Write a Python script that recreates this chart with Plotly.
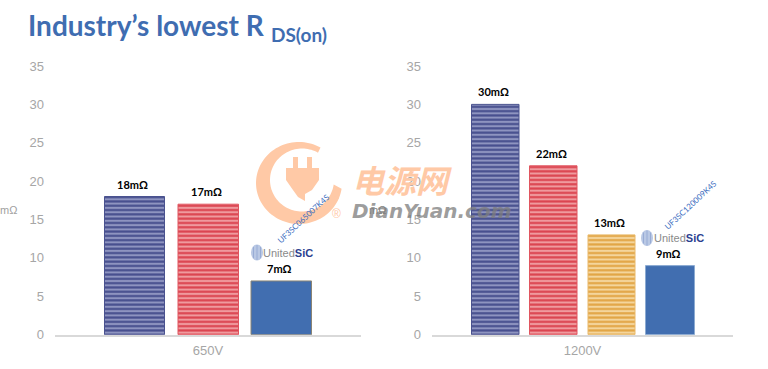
import numpy as np
import plotly.graph_objects as go

W, H = 768, 369

# --- data ---
group_left = "650V"
values_left = [18, 17, 7]
labels_left = ["18mΩ", "17mΩ", "7mΩ"]
group_right = "1200V"
values_right = [30, 22, 13, 9]
labels_right = ["30mΩ", "22mΩ", "13mΩ", "9mΩ"]
y_ticks = [0, 5, 10, 15, 20, 25, 30, 35]
part_left = "UF3SC065007K4S"
part_right = "UF3SC120009K4S"

# --- layout constants (pixels) ---
L_AX = (55, 361)
R_AX = (432, 733)
Y_TOP, Y_BASE = 66.0, 334.7
L_BARS = [(104.5, 164.5), (178, 238.5), (251, 311.5)]
R_BARS = [(471.5, 519), (529.5, 577), (588, 635), (645.5, 694.5)]

NAVY = dict(bg="#8E94C0", fg="#474F8E", line="#4A528F")
RED = dict(bg="#EF9A9E", fg="#DB4450", line="#E0555F")
ORANGE = dict(bg="#F4D59C", fg="#E2A545", line="#E9B868")
BLUE_L = dict(bg="#416EB0", fg="#416EB0", line="#8A8474")
BLUE_R = dict(bg="#416EB0", fg="#416EB0", line="#8CABD2")

SANS = "Liberation Sans, Arial, sans-serif"
LATO = "Lato, Open Sans, sans-serif"

px = lambda x: x / W
py = lambda y: 1 - y / H

value_notes = []


def add_bars(fig, group, values, labels, bars, ax, styles, xa, ya):
    span = ax[1] - ax[0]
    centre = (ax[0] + ax[1]) / 2
    for v, lab, b, s in zip(values, labels, bars, styles):
        fig.add_trace(go.Bar(
            x=[group], y=[v], xaxis=xa, yaxis=ya, showlegend=False,
            width=(b[1] - b[0]) / span, offset=(b[0] - centre) / span,
            marker=dict(
                color=s["bg"],
                line=dict(color=s["line"], width=1),
                pattern=dict(shape="-", size=4.3, solidity=0.5,
                             fgcolor=s["fg"], bgcolor=s["bg"], fillmode="replace"),
            ),
        ))
        value_notes.append(dict(
            text=f"<b>{lab}</b>", x=group, y=v, xref=xa, yref=ya, showarrow=False,
            xanchor="center", yanchor="bottom", yshift=4,
            xshift=(b[0] + b[1]) / 2 - centre - 2,
            font=dict(size=11, color="#000000", family=LATO),
        ))


fig = go.Figure()
add_bars(fig, group_left, values_left, labels_left, L_BARS, L_AX,
         [NAVY, RED, BLUE_L], "x", "y")
add_bars(fig, group_right, values_right, labels_right, R_BARS, R_AX,
         [NAVY, RED, ORANGE, BLUE_R], "x2", "y2")

tick_font = dict(family=SANS, size=13, color="#A6A6A6")
x_style = dict(type="category", range=[-0.5, 0.5], showgrid=False, showline=True, automargin=False,
               linecolor="#D9D9D9", linewidth=1.5, ticks="", tickfont=tick_font, fixedrange=True,
               ticklabelstandoff=3)
y_style = dict(range=[0, 35], tickvals=y_ticks, showgrid=False, zeroline=False, showline=False, automargin=False,
               ticks="", tickfont=tick_font, ticklabelstandoff=10, fixedrange=True)
y_dom = [py(Y_BASE), py(Y_TOP)]

# --- watermark and logo shapes ---
shapes = []


def poly(points, **kw):
    d = "M " + " L ".join(f"{px(x):.5f},{py(y):.5f}" for x, y in points) + " Z"
    shapes.append(dict(type="path", xref="paper", yref="paper", path=d, line_width=0, **kw))


WM = "#FFC9A6"
a1 = np.radians(np.linspace(-8, -300, 90))
outer = [(299 + 43 * np.cos(a), 183 + 41 * np.sin(-a)) for a in a1]
inner = [(302 + 32 * np.cos(a), 180 + 31.5 * np.sin(-a)) for a in a1[::-1]]
poly(outer + inner, fillcolor=WM)
# plug
poly([(293, 157), (298, 157), (298, 168), (307, 168), (307, 157), (312, 157), (312, 168),
      (319, 168), (319, 180), (312, 190), (305, 194), (305, 201), (298, 197), (293, 190), (286, 180), (286, 168), (293, 168)],
     fillcolor=WM)
# cord towards the ring's open end
poly([(322, 208), (334, 196), (339, 198), (326, 213)], fillcolor=WM)


def sphere(cx, cy):
    shapes.append(dict(type="circle", xref="paper", yref="paper", line_width=0,
                       fillcolor="#B9C8E4", x0=px(cx - 6), x1=px(cx + 6), y0=py(cy + 8), y1=py(cy - 8)))
    for dx, hh in [(-3.5, 5.5), (0, 7.5), (3.5, 5.5)]:
        shapes.append(dict(type="line", xref="paper", yref="paper",
                           line=dict(color="#8FA5D0", width=0.8),
                           x0=px(cx + dx), x1=px(cx + dx), y0=py(cy + hh), y1=py(cy - hh)))


sphere(257, 252.5)
sphere(647, 238)


def note(text, x, y, size, color, family, anchor="center", angle=0):
    return dict(text=text, x=px(x), y=py(y), xref="paper", yref="paper", showarrow=False,
                xanchor=anchor, yanchor="middle", textangle=angle,
                font=dict(size=size, color=color, family=family))


logo = "<span style='color:#8A8A8A'>United</span><b style='color:#2B3F8F'>SiC</b>"
annotations = value_notes + [
    note("<b>Industry’s lowest R</b>", 26, 25, 28, "#3F6DB1", LATO, "left"),
    note("<b>DS(on)</b>", 269, 34, 19, "#3F6DB1", LATO, "left"),
    note("mΩ", 8, 210, 11, "#A0A0A0", SANS),
    note("mΩ", 377, 210, 11, "#808080", SANS),
    note("<b><i>电源网</i></b>", 402, 179, 32, WM, "Noto Sans CJK SC"),
    note("<b><i>DianYuan.com</i></b>", 431, 211, 20, "rgba(125,125,125,0.75)", "DejaVu Sans"),
    note("®", 336, 214, 12, WM, SANS),
    note(logo, 288, 253, 11, "#8A8A8A", SANS),
    note(logo, 679, 238, 11, "#8A8A8A", SANS),
    note(part_left, 303, 219, 8, "#3A6CC0", LATO, angle=-43),
    note(part_right, 690.5, 205, 8, "#3A6CC0", LATO, angle=-43),
]

fig.update_layout(
    width=W, height=H, margin=dict(l=0, r=0, t=0, b=0, autoexpand=False), autosize=False,
    paper_bgcolor="white", plot_bgcolor="white", showlegend=False,
    xaxis=dict(domain=[px(L_AX[0]), px(L_AX[1])], anchor="y", **x_style),
    yaxis=dict(domain=y_dom, anchor="x", **y_style),
    xaxis2=dict(domain=[px(R_AX[0]), px(R_AX[1])], anchor="y2", **x_style),
    yaxis2=dict(domain=y_dom, anchor="x2", **y_style),
    shapes=shapes, annotations=annotations,
)
fig.write_html("out.html", config=dict(displayModeBar=False),
               post_script="document.body.style.margin='0';document.documentElement.style.overflow='hidden';")
